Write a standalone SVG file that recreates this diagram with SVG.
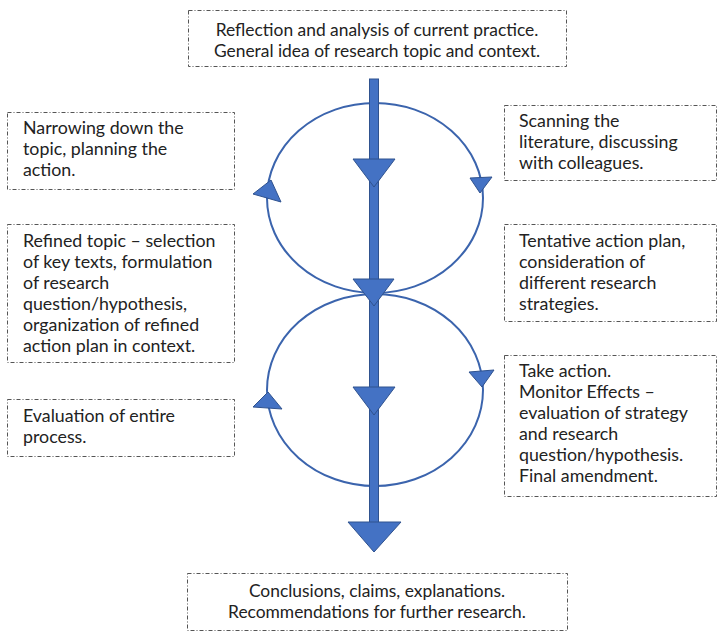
<svg xmlns="http://www.w3.org/2000/svg" width="720" height="634" viewBox="0 0 720 634">
<style>
.box{fill:#fff;stroke:#555;stroke-width:1;stroke-dasharray:4 2 1 2}
.t{font-family:"Lato","Liberation Sans",sans-serif;font-size:17.8px;fill:#222}
.c{text-anchor:middle;font-size:17.4px}
.loop{fill:none;stroke:#3B64AD;stroke-width:2}
.head{fill:#4472C4;stroke:#2F528F;stroke-width:1}
</style>
<rect width="720" height="634" fill="#fff"/>
<g id="connectors">
<ellipse class="loop" cx="375" cy="198" rx="108" ry="95"/>
<ellipse class="loop" cx="375" cy="390" rx="108" ry="96"/>
<polygon class="head" points="271,180 253,194 281,202"/>
<polygon class="head" points="470,178 492,177 480,193"/>
<polygon class="head" points="268,392 253,407 282,409"/>
<polygon class="head" points="469,372 494,370 482,387"/>
<rect class="head" x="369.5" y="79" width="9" height="444"/>
<polygon class="head" points="353,159 395,159 374,187"/>
<polygon class="head" points="353,279 394,279 374,306"/>
<polygon class="head" points="353,387 395,387 374,415"/>
<polygon class="head" points="348,522 401,522 374,552"/>
</g>
<g id="n_top">
<rect class="box" x="188.5" y="10.5" width="378" height="56"/>
<text class="t c" x="377" y="36">Reflection and analysis of current practice.</text>
<text class="t c" x="377" y="57">General idea of research topic and context.</text>
</g>
<g id="n_narrow">
<rect class="box" x="7.5" y="112.5" width="227" height="77"/>
<text class="t" x="23" y="134">Narrowing down the</text>
<text class="t" x="23" y="155">topic, planning the</text>
<text class="t" x="23" y="176">action.</text>
</g>
<g id="n_refined">
<rect class="box" x="7.5" y="224.5" width="227" height="138"/>
<text class="t" x="23" y="247">Refined topic – selection</text>
<text class="t" x="23" y="268">of key texts, formulation</text>
<text class="t" x="23" y="289">of research</text>
<text class="t" x="23" y="310">question/hypothesis,</text>
<text class="t" x="23" y="331">organization of refined</text>
<text class="t" x="23" y="352">action plan in context.</text>
</g>
<g id="n_eval">
<rect class="box" x="7.5" y="399.5" width="227" height="57"/>
<text class="t" x="23" y="422">Evaluation of entire</text>
<text class="t" x="23" y="443">process.</text>
</g>
<g id="n_scan">
<rect class="box" x="504.5" y="105.5" width="212" height="75"/>
<text class="t" x="519" y="127">Scanning the</text>
<text class="t" x="519" y="148">literature, discussing</text>
<text class="t" x="519" y="169">with colleagues.</text>
</g>
<g id="n_tentative">
<rect class="box" x="504.5" y="224.5" width="212" height="97"/>
<text class="t" x="519" y="247">Tentative action plan,</text>
<text class="t" x="519" y="268">consideration of</text>
<text class="t" x="519" y="289">different research</text>
<text class="t" x="519" y="310">strategies.</text>
</g>
<g id="n_action">
<rect class="box" x="504.5" y="355.5" width="212" height="141"/>
<text class="t" x="519" y="377">Take action.</text>
<text class="t" x="519" y="398">Monitor Effects –</text>
<text class="t" x="519" y="419">evaluation of strategy</text>
<text class="t" x="519" y="440">and research</text>
<text class="t" x="519" y="461">question/hypothesis.</text>
<text class="t" x="519" y="482">Final amendment.</text>
</g>
<g id="n_bottom">
<rect class="box" x="187.5" y="573.5" width="380" height="57"/>
<text class="t c" x="377" y="597">Conclusions, claims, explanations.</text>
<text class="t c" x="377" y="618">Recommendations for further research.</text>
</g>
</svg>
